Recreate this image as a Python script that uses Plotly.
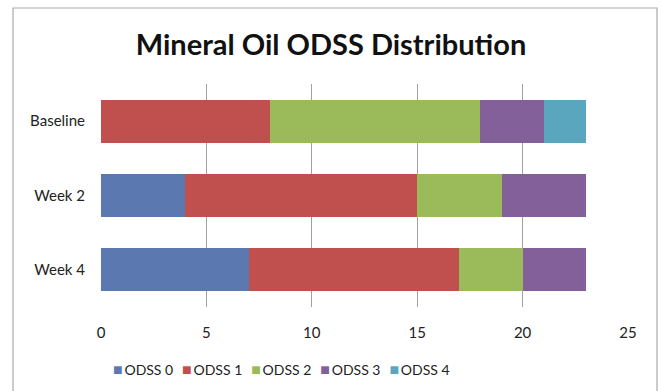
import plotly.graph_objects as go

categories = ["Baseline", "Week 2", "Week 4"]
series_names = ["ODSS 0", "ODSS 1", "ODSS 2", "ODSS 3", "ODSS 4"]
odss0 = [0, 4, 7]
odss1 = [8, 11, 10]
odss2 = [10, 4, 3]
odss3 = [3, 4, 3]
odss4 = [2, 0, 0]
series_values = [odss0, odss1, odss2, odss3, odss4]
colors = ["#5B79B0", "#BF504D", "#9BBA59", "#83609A", "#5AA6BE"]
x_ticks = [0, 5, 10, 15, 20, 25]

fig = go.Figure()
for name, vals, c in zip(series_names, series_values, colors):
    fig.add_trace(go.Bar(
        y=categories, x=vals, name=name, orientation="h",
        marker=dict(color=c, line=dict(width=0)),
        showlegend=False,
    ))

L, R, T, B = 101, 34, 84, 84
W, H = 662, 391
pw, ph = W - L - R, H - T - B

def px_to_paper_x(px):
    return (px - L) / pw

def px_to_paper_y(py):
    return (H - B - py) / ph

FONT = "Lato, Open Sans, sans-serif"

# compact legend as real text (Excel-style), built from the series names/colours
legend_parts = [
    f"<span style='color:{c};font-size:16px'>■</span>&#8201;{n}" for n, c in zip(series_names, colors)
]
legend_text = "&nbsp;&nbsp;&#8201;".join(legend_parts)

fig.update_layout(
    width=W, height=H,
    margin=dict(l=L, r=R, t=T, b=B, pad=0),
    barmode="stack",
    bargap=0.42,
    paper_bgcolor="white",
    plot_bgcolor="white",
    font=dict(family=FONT, color="#222222", size=15),
    title=dict(
        text="<b>Mineral Oil ODSS Distribution</b>",
        x=0.5, xanchor="center", y=1 - 45 / H, yanchor="middle",
        font=dict(size=29, color="#111111", family=FONT),
    ),
    xaxis=dict(
        range=[0, 25], tickvals=x_ticks, ticktext=[str(t) for t in x_ticks],
        showgrid=True, gridcolor="#A0A0A0", gridwidth=1,
        zeroline=False, showline=False, ticks="", ticklabelstandoff=15,
        tickfont=dict(size=15, color="#222222", family=FONT),
    ),
    yaxis=dict(
        categoryorder="array", categoryarray=categories[::-1],
        autorange=True, showgrid=False, zeroline=False, showline=False,
        ticks="", ticklabelstandoff=15,
        tickfont=dict(size=15, color="#222222", family=FONT),
    ),
    showlegend=False,
    annotations=[
        dict(text=legend_text, xref="paper", yref="paper",
             x=px_to_paper_x(281), y=px_to_paper_y(368), xanchor="center", yanchor="middle",
             showarrow=False, font=dict(size=14, color="#222222", family=FONT)),
    ],
    shapes=[
        dict(type="rect", xref="paper", yref="paper",
             x0=px_to_paper_x(13), x1=px_to_paper_x(657),
             y0=px_to_paper_y(400), y1=px_to_paper_y(8),
             line=dict(color="#B0A8A8", width=1.2), fillcolor="rgba(0,0,0,0)", layer="below"),
    ],
)

fig.write_html("out.html")
